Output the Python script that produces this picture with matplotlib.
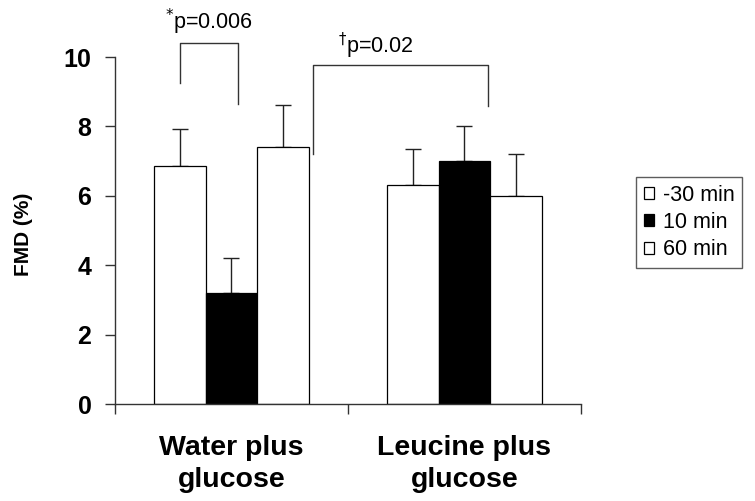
import numpy as np
import matplotlib.pyplot as plt

plt.rcParams['font.family'] = ['Liberation Sans', 'DejaVu Sans']

groups = ['Water plus\nglucose', 'Leucine plus\nglucose']
times = ['-30 min', '10 min', '60 min']
fmd = {
    '-30 min': [6.87, 6.3],
    '10 min': [3.2, 7.0],
    '60 min': [7.42, 6.0],
}
err = {
    '-30 min': [1.05, 1.05],
    '10 min': [1.0, 1.0],
    '60 min': [1.2, 1.22],
}
colors = ['white', 'black', 'white']
p_marks = ['*', '\u2020']
p_values = ['p=0.006', 'p=0.02']

fig = plt.figure(figsize=(7.55, 5.01), dpi=100)
ax = fig.add_axes([0.1523, 0.1936, 0.6172, 0.6924])

centers = np.array([0.5, 1.5])
w = 0.222
for i, t in enumerate(times):
    xs = centers + (i - 1) * w
    ax.bar(xs, fmd[t], width=w, color=colors[i], edgecolor='black',
           linewidth=0.9, label=t, zorder=2)
    ax.errorbar(xs, fmd[t], yerr=[np.zeros(2), err[t]], fmt='none',
                ecolor='#222222', elinewidth=1.0, capsize=6, capthick=1.0,
                zorder=1)

ax.set_xlim(0, 2)
ax.set_ylim(0, 10)
ax.set_yticks([0, 2, 4, 6, 8, 10])
ax.set_yticklabels(['0', '2', '4', '6', '8', '10'], fontweight='bold', fontsize=18)
ax.set_xticks([0, 1, 2])
ax.set_xticklabels([])
ax.set_xticks(centers, minor=True)
ax.set_xticklabels(groups, minor=True, fontweight='bold', fontsize=20.5,
                   linespacing=1.3)
ax.tick_params(axis='x', which='minor', length=0, pad=22)
ax.tick_params(axis='both', which='major', length=7, width=1, color='#333333')
ax.tick_params(axis='y', which='major', pad=10)
ax.spines['top'].set_visible(False)
ax.spines['right'].set_visible(False)
for s in ['left', 'bottom']:
    ax.spines[s].set_linewidth(1)
    ax.spines[s].set_color('#333333')
ax.set_ylabel('FMD (%)', fontweight='bold', fontsize=15)
ax.yaxis.set_label_coords(-0.176, 0.49)

# significance brackets
bx1 = centers[0] - w
bx2 = centers[0] + 0.03
ax.plot([bx1, bx1, bx2, bx2], [9.25, 10.4, 10.4, 8.65], color='#333333',
        lw=1, clip_on=False)
ax.text((bx1 + bx2) / 2, 10.8, f'$^{{{p_marks[0]}}}$' + p_values[0],
        ha='center', va='baseline', fontsize=15.5, clip_on=False)
cx1 = centers[0] + w + 0.13
cx2 = centers[1] + 0.1
ax.plot([cx1, cx1, cx2, cx2], [7.2, 9.77, 9.77, 8.59], color='#333333',
        lw=1, clip_on=False)
ax.text(1.12, 10.1, f'$^{{{p_marks[1]}}}$' + p_values[1], ha='center',
        va='baseline', fontsize=15.5, clip_on=False)

leg = ax.legend(loc='upper left', bbox_to_anchor=(0.8430, 0.6467),
                bbox_transform=fig.transFigure, fontsize=15.5,
                frameon=True, fancybox=False, handlelength=0.48,
                handleheight=0.48, handletextpad=0.4, borderpad=0.35,
                labelspacing=0.3, borderaxespad=0)
leg.get_frame().set_edgecolor('#333333')
leg.get_frame().set_linewidth(1)

fig.savefig('out.png', dpi=100)
